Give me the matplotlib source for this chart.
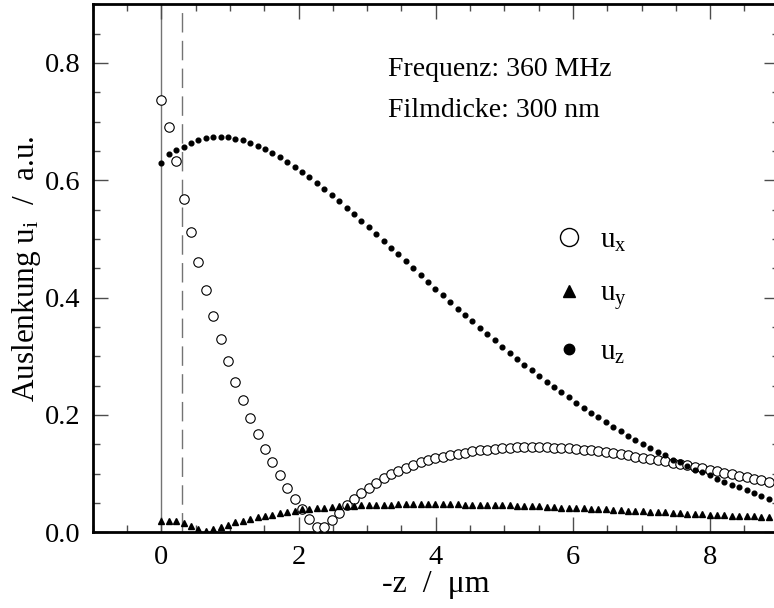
import numpy as np
import matplotlib
matplotlib.use("Agg")
import matplotlib.pyplot as plt
from matplotlib.lines import Line2D
from matplotlib.ticker import MultipleLocator, FormatStrFormatter

plt.rcParams["font.family"] = ["Liberation Serif", "DejaVu Serif"]
plt.rcParams["mathtext.fontset"] = "custom"
plt.rcParams["mathtext.rm"] = "Liberation Serif"
plt.rcParams["mathtext.it"] = "Liberation Serif:italic"
plt.rcParams["mathtext.default"] = "regular"

# depth grid (um) and displacement components (a.u.)
dz = 0.108
film = 0.3  # film thickness in um

u_x = [0.737, 0.691, 0.633, 0.568, 0.512, 0.460, 0.413, 0.369, 0.329, 0.292,
       0.257, 0.225, 0.195, 0.168, 0.142, 0.119, 0.097, 0.076, 0.057, 0.039,
       0.023, 0.009, 0.009, 0.021, 0.033, 0.046, 0.057, 0.067, 0.076, 0.084,
       0.092, 0.099, 0.105, 0.110, 0.115, 0.119, 0.123, 0.126, 0.129, 0.132,
       0.134, 0.136, 0.138, 0.140, 0.141, 0.142, 0.143, 0.144, 0.145, 0.145,
       0.145, 0.145, 0.145, 0.144, 0.144, 0.143, 0.142, 0.141, 0.140, 0.138,
       0.137, 0.135, 0.133, 0.131, 0.129, 0.127, 0.125, 0.123, 0.121, 0.118,
       0.116, 0.114, 0.111, 0.109, 0.106, 0.104, 0.101, 0.099, 0.096, 0.094,
       0.091, 0.089, 0.086]

u_y = [0.019, 0.019, 0.019, 0.016, 0.010, 0.005, 0.003, 0.005, 0.009, 0.013,
       0.018, 0.020, 0.023, 0.026, 0.028, 0.030, 0.033, 0.035, 0.037, 0.039,
       0.040, 0.041, 0.042, 0.043, 0.044, 0.045, 0.045, 0.046, 0.046, 0.047,
       0.047, 0.047, 0.048, 0.048, 0.048, 0.048, 0.048, 0.048, 0.048, 0.048,
       0.048, 0.047, 0.047, 0.047, 0.047, 0.046, 0.046, 0.046, 0.045, 0.045,
       0.044, 0.044, 0.043, 0.043, 0.042, 0.042, 0.041, 0.041, 0.040, 0.040,
       0.039, 0.038, 0.038, 0.037, 0.037, 0.036, 0.035, 0.035, 0.034, 0.033,
       0.033, 0.032, 0.031, 0.031, 0.030, 0.030, 0.029, 0.028, 0.028, 0.027,
       0.027, 0.026, 0.026]

u_z = [0.630, 0.644, 0.652, 0.656, 0.663, 0.668, 0.672, 0.674, 0.674, 0.673,
       0.671, 0.668, 0.664, 0.659, 0.653, 0.647, 0.640, 0.632, 0.623, 0.614,
       0.605, 0.595, 0.585, 0.575, 0.564, 0.553, 0.543, 0.531, 0.520, 0.508,
       0.497, 0.485, 0.474, 0.462, 0.450, 0.438, 0.427, 0.415, 0.404, 0.393,
       0.381, 0.370, 0.360, 0.349, 0.338, 0.327, 0.316, 0.306, 0.296, 0.286,
       0.276, 0.267, 0.257, 0.248, 0.239, 0.230, 0.221, 0.212, 0.204, 0.196,
       0.188, 0.180, 0.173, 0.165, 0.158, 0.151, 0.144, 0.137, 0.131, 0.124,
       0.119, 0.113, 0.107, 0.102, 0.097, 0.091, 0.086, 0.081, 0.077, 0.072,
       0.067, 0.062, 0.057]

z = dz * np.arange(len(u_z))

fig = plt.figure(figsize=(7.74, 6.08), dpi=100)
ax = fig.add_axes([0.1198, 0.1245, 0.8863, 0.8684])

# surface and film/substrate interface
ax.axvline(0, color="0.45", lw=1.0, zorder=1)
ax.axvline(film, color="0.45", lw=1.0, ls=(0, (14, 6)), zorder=1)

ax.plot(z, u_x, ls="none", marker="o", ms=6.8, mfc="white", mec="black", mew=0.8, zorder=3)
ax.plot(z, u_y, ls="none", marker="^", ms=4.6, color="black", zorder=4)
ax.plot(z, u_z, ls="none", marker="o", ms=3.4, color="black", zorder=5)

ax.set_xlim(-1, 9)
ax.set_ylim(0, 0.9)
ax.xaxis.set_major_locator(MultipleLocator(2))
ax.xaxis.set_minor_locator(MultipleLocator(0.5))
ax.yaxis.set_major_locator(MultipleLocator(0.2))
ax.yaxis.set_minor_locator(MultipleLocator(0.05))
ax.yaxis.set_major_formatter(FormatStrFormatter("%.1f"))
ax.tick_params(which="both", direction="in", top=True, right=True,
               color="0.3", width=1.0, labelsize=20.5)
ax.tick_params(which="major", length=11, pad=9)
ax.tick_params(which="minor", length=5.3)
for s in ax.spines.values():
    s.set_linewidth(2.0)

ax.set_xlabel("-z  /  \u03bcm", fontsize=23, labelpad=0)
ax.set_ylabel("Auslenkung u$_i$  /  a.u.", fontsize=22.5, labelpad=1)

ax.text(0.4305, 0.876, "Frequenz: 360 MHz", transform=ax.transAxes,
        fontsize=20, va="center", ha="left")
ax.text(0.4305, 0.798, "Filmdicke: 300 nm", transform=ax.transAxes,
        fontsize=20, va="center", ha="left")

handles = [
    Line2D([], [], ls="none", marker="o", ms=13, mfc="white", mec="black", mew=1.0),
    Line2D([], [], ls="none", marker="^", ms=9, color="black"),
    Line2D([], [], ls="none", marker="o", ms=7.5, color="black"),
]
ax.legend(handles, ["u$_x$", "u$_y$", "u$_z$"], loc="upper left",
          bbox_to_anchor=(0.673, 0.578), frameon=False, fontsize=21,
          labelspacing=0.92, handlelength=1.0, handletextpad=0.55,
          borderpad=0, borderaxespad=0)

fig.savefig("out.png", dpi=100)
